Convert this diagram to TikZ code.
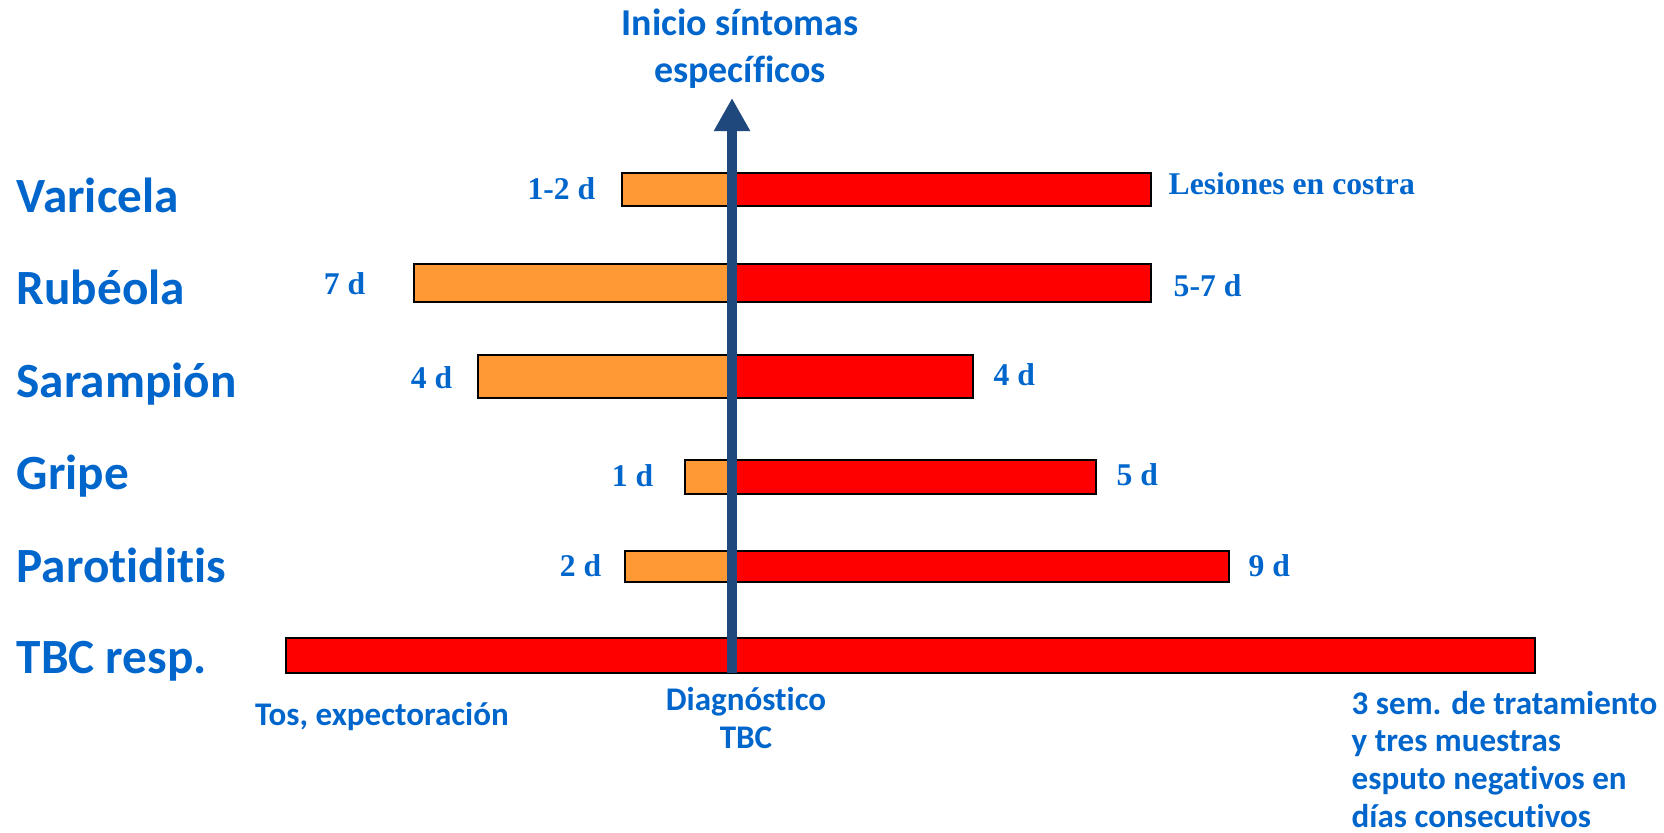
\documentclass[tikz,border=0pt]{standalone}
\usepackage{fontspec}
\usepackage{xcolor}
\usepackage{tikz}
\usetikzlibrary{arrows.meta}
\newfontfamily\calibrifont[Ligatures=CommonOff]{Carlito}
\newfontfamily\timesfont{Liberation Serif}
\definecolor{labelblue}{RGB}{0,102,204}
\definecolor{axisblue}{RGB}{31,73,125}
\definecolor{prodrome}{RGB}{255,153,51}

\begin{document}
\begin{tikzpicture}[x=0.01cm, y=-0.01cm]
    \tikzstyle{disease} = [anchor=base west, inner sep=0pt, text=labelblue, font=\calibrifont\bfseries\fontsize{14}{16}\selectfont]
    \tikzstyle{days} = [inner sep=0pt, text=labelblue, font=\timesfont\bfseries\fontsize{9}{11}\selectfont]
    \tikzstyle{note} = [inner sep=0pt, text=labelblue, font=\calibrifont\bfseries\fontsize{9.4}{10.7}\selectfont]
    \tikzstyle{prebar} = [draw=black, line width=0.6pt, fill=prodrome]
    \tikzstyle{postbar} = [draw=black, line width=0.6pt, fill=red]
    \useasboundingbox (0,0) rectangle (1664,832);

    % Diseases
    \node [disease] (varicela) at (16,212) {Varicela};
    \node [disease] (rubeola) at (16,304) {Rubéola};
    \node [disease] (sarampion) at (16,397) {Sarampión};
    \node [disease] (gripe) at (16,489) {Gripe};
    \node [disease] (parotiditis) at (16,582) {Parotiditis};
    \node [disease] (tbc) at (16,673) {TBC resp.};

    % Bars (before / after onset)
    \draw [prebar] (622,173) rectangle (732,206);
    \draw [postbar] (732,173) rectangle (1151,206);
    \draw [prebar] (414,264) rectangle (732,302);
    \draw [postbar] (732,264) rectangle (1151,302);
    \draw [prebar] (478,355) rectangle (732,398);
    \draw [postbar] (732,355) rectangle (973,398);
    \draw [prebar] (685,460) rectangle (732,494);
    \draw [postbar] (732,460) rectangle (1096,494);
    \draw [prebar] (625,551) rectangle (732,582);
    \draw [postbar] (732,551) rectangle (1229,582);
    \draw [postbar] (286,638) rectangle (1535,673);

    % Days
    \node [days, anchor=base east] (varpre) at (596,199) {1-2 d};
    \node [days, anchor=base west] (varpost) at (1168,194) {Lesiones en costra};
    \node [days, anchor=base east] (rubpre) at (366,294) {7 d};
    \node [days, anchor=base west] (rubpost) at (1173,296) {5-7 d};
    \node [days, anchor=base east] (sarpre) at (453,388) {4 d};
    \node [days, anchor=base west] (sarpost) at (993,385) {4 d};
    \node [days, anchor=base east] (grippre) at (654,486) {1 d};
    \node [days, anchor=base west] (grippost) at (1116,485) {5 d};
    \node [days, anchor=base east] (parpre) at (602,576) {2 d};
    \node [days, anchor=base west] (parpost) at (1248,576) {9 d};

    % Onset axis
    \node [note, anchor=base, align=center, font=\calibrifont\bfseries\fontsize{10.8}{13.1}\selectfont] (onset) at (740,82) {Inicio síntomas\\específicos};
    \coordinate (axisbot) at (732,673);
    \coordinate (axistop) at (732,98);
    \draw [axisblue, line width=2.9pt, -{Triangle[length=9.4pt,width=9.7pt]}] (axisbot) -- (axistop);

    % TBC notes
    \node [note, anchor=base] (cough) at (382,725) {Tos, expectoración};
    \node [note, anchor=base, align=center] (diag) at (746,748) {Diagnóstico\\TBC};
    \node [note, anchor=base west, align=left] (cure) at (1351,827) {3 sem. de tratamiento\\y tres muestras\\esputo negativos en\\días consecutivos};
\end{tikzpicture}
\end{document}
